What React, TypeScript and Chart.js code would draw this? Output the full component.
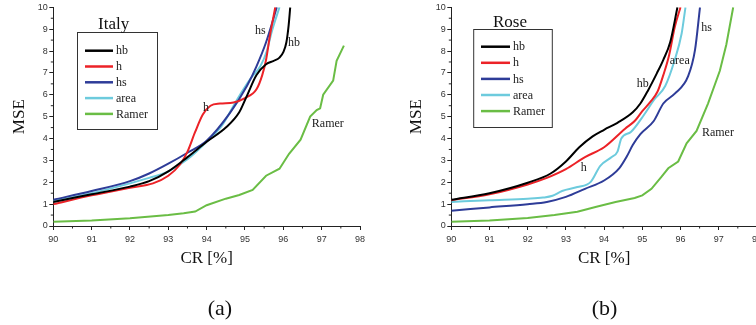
import React, { useEffect, useRef } from "react";
import { Chart, registerables } from "chart.js";
Chart.register(...registerables);

// ---------- shared ----------
const SERIES_NAMES = ["hb", "h", "hs", "area", "Ramer"];
const SERIES_COLORS = ["#000000", "#ec2227", "#2e3c98", "#6dcbdd", "#6abd45"];
const X_TICKS = [90, 91, 92, 93, 94, 95, 96, 97, 98];
const Y_TICKS = [0, 1, 2, 3, 4, 5, 6, 7, 8, 9, 10];

// ---------- (a) Italy ----------
const italyHbX = [90, 91, 92, 92.5, 93, 93.5, 94, 94.5, 94.85, 95.05, 95.3, 95.55, 95.75, 95.9, 96.0, 96.08, 96.14, 96.18];
const italyHbY = [1.1, 1.45, 1.8, 2.05, 2.5, 3.15, 3.85, 4.5, 5.2, 5.95, 6.9, 7.4, 7.55, 7.7, 7.95, 8.4, 9.2, 10];
const italyHX = [90, 91, 92, 92.6, 93, 93.3, 93.5, 93.7, 93.9, 94.1, 94.35, 94.7, 95.0, 95.3, 95.45, 95.55, 95.65, 95.79];
const italyHY = [1.0, 1.4, 1.75, 1.95, 2.3, 2.8, 3.4, 4.3, 5.1, 5.5, 5.6, 5.65, 5.85, 6.25, 6.9, 7.6, 8.7, 10];
const italyHsX = [90, 91, 92, 92.5, 93, 93.5, 94, 94.6, 95.05, 95.3, 95.55, 95.83];
const italyHsY = [1.2, 1.6, 2.05, 2.4, 2.85, 3.35, 3.9, 5.15, 6.4, 7.3, 8.4, 10];
const italyAreaX = [90, 91, 92, 92.5, 93, 93.5, 94, 94.4, 94.8, 95.15, 95.4, 95.57, 95.7, 95.9];
const italyAreaY = [1.15, 1.5, 1.95, 2.2, 2.5, 3.05, 3.85, 4.6, 5.8, 6.75, 7.3, 8.0, 8.9, 10];
const italyRamerX = [90, 91, 92, 93, 93.4, 93.7, 94.0, 94.5, 94.85, 95.2, 95.55, 95.9, 96.15, 96.45, 96.7, 96.87, 96.96, 97.04, 97.3, 97.39, 97.58];
const italyRamerY = [0.2, 0.25, 0.35, 0.5, 0.58, 0.66, 0.95, 1.25, 1.42, 1.65, 2.3, 2.62, 3.3, 3.95, 5.0, 5.3, 5.38, 6.0, 6.65, 7.55, 8.25];
const italyLabelText = ["hs", "hb", "h", "Ramer"];
const italyLabelX = [95.4, 96.28, 93.98, 97.16];
const italyLabelY = [8.92, 8.36, 5.39, 4.67];

// ---------- (b) Rose ----------
const roseHbX = [90, 91, 92, 92.6, 93, 93.35, 93.7, 94.0, 94.35, 94.75, 94.95, 95.15, 95.38, 95.55, 95.73, 95.92];
const roseHbY = [1.2, 1.5, 1.98, 2.4, 2.95, 3.6, 4.1, 4.4, 4.72, 5.2, 5.6, 6.2, 6.98, 7.6, 8.4, 10];
const roseHX = [90, 91, 92, 92.5, 93, 93.5, 94, 94.55, 94.8, 95.0, 95.2, 95.4, 95.55, 95.7, 95.85, 96.0];
const roseHY = [1.18, 1.45, 1.9, 2.2, 2.6, 3.15, 3.6, 4.45, 4.8, 5.25, 5.65, 6.15, 6.9, 7.8, 9.1, 10];
const roseHsX = [90, 91, 92, 92.5, 93, 93.5, 94, 94.4, 94.6, 94.75, 94.95, 95.3, 95.55, 95.85, 96.2, 96.38, 96.51];
const roseHsY = [0.7, 0.85, 1.0, 1.1, 1.33, 1.7, 2.08, 2.65, 3.2, 3.7, 4.2, 4.8, 5.6, 6.05, 6.85, 8.05, 10];
const roseAreaX = [90, 91, 92, 92.4, 92.65, 92.9, 93.3, 93.65, 93.9, 94.2, 94.35, 94.45, 94.7, 95.05, 95.3, 95.6, 95.85, 96.03, 96.13];
const roseAreaY = [1.1, 1.18, 1.25, 1.3, 1.38, 1.6, 1.78, 2.02, 2.75, 3.15, 3.4, 4.0, 4.3, 5.1, 5.75, 6.4, 7.6, 8.8, 10];
const roseRamerX = [90, 91, 92, 92.7, 93.3, 93.8, 94.3, 94.8, 95.0, 95.24, 95.5, 95.68, 95.94, 96.16, 96.42, 96.72, 97.03, 97.2, 97.38];
const roseRamerY = [0.2, 0.25, 0.37, 0.5, 0.65, 0.88, 1.1, 1.28, 1.4, 1.7, 2.25, 2.64, 2.95, 3.78, 4.35, 5.6, 7.1, 8.3, 10];
const roseLabelText = ["hs", "area", "hb", "h", "Ramer"];
const roseLabelX = [96.68, 95.98, 95.01, 93.47, 96.98];
const roseLabelY = [9.07, 7.55, 6.49, 2.67, 4.24];

const zip = (xs: number[], ys: number[]) => xs.map((x, i) => ({ x, y: ys[i] }));

type Panel = {
  title: string;
  caption: string;
  series: { x: number[]; y: number[] }[];
  labels: { t: string[]; x: number[]; y: number[] };
  canvasLeft: number;
  canvasWidth: number;
  axisWidth: number;
  padRight: number;
  yTitlePad: number;
  legend: { bx: number; by: number; bw: number; bh: number; lx0: number; lx1: number; tx: number; ry0: number; rdy: number; titleX: number; titleY: number };
  captionX: number;
};

const PANELS: Panel[] = [
  {
    title: "Italy",
    caption: "(a)",
    series: [
      { x: italyHbX, y: italyHbY },
      { x: italyHX, y: italyHY },
      { x: italyHsX, y: italyHsY },
      { x: italyAreaX, y: italyAreaY },
      { x: italyRamerX, y: italyRamerY },
    ],
    labels: { t: italyLabelText, x: italyLabelX, y: italyLabelY },
    canvasLeft: 0,
    canvasWidth: 378,
    axisWidth: 53.3,
    padRight: 18,
    yTitlePad: 9,
    legend: { bx: 77.5, by: 32.5, bw: 80, bh: 97, lx0: 85, lx1: 113, tx: 116, ry0: 50.7, rdy: 15.8, titleX: 98, titleY: 28.5 },
    captionX: 220,
  },
  {
    title: "Rose",
    caption: "(b)",
    series: [
      { x: roseHbX, y: roseHbY },
      { x: roseHX, y: roseHY },
      { x: roseHsX, y: roseHsY },
      { x: roseAreaX, y: roseAreaY },
      { x: roseRamerX, y: roseRamerY },
    ],
    labels: { t: roseLabelText, x: roseLabelX, y: roseLabelY },
    canvasLeft: 378,
    canvasWidth: 400,
    axisWidth: 73.3,
    padRight: 21.1,
    yTitlePad: 28.8,
    legend: { bx: 95.7, by: 29.5, bw: 78.6, bh: 98, lx0: 103, lx1: 132, tx: 135, ry0: 46.7, rdy: 16.1, titleX: 115, titleY: 26.7 },
    captionX: 604.5,
  },
];

const SERIF = "'Liberation Serif', 'DejaVu Serif', serif";
const SANS = "'Liberation Sans', Arial, sans-serif";

function makeDecor(p: Panel) {
  return {
    id: "decor" + p.title,
    afterDraw(chart: any) {
      const ctx = chart.ctx as CanvasRenderingContext2D;
      const xs = chart.scales.x;
      const ys = chart.scales.y;
      const area = chart.chartArea;
      ctx.save();
      // minor ticks
      ctx.strokeStyle = "#222";
      ctx.lineWidth = 1;
      ctx.beginPath();
      for (let i = 0; i < X_TICKS.length - 1; i++) {
        const px = xs.getPixelForValue(X_TICKS[i] + 0.5);
        ctx.moveTo(px, area.bottom);
        ctx.lineTo(px, area.bottom + 2.5);
      }
      for (let i = 0; i < Y_TICKS.length - 1; i++) {
        const py = ys.getPixelForValue(Y_TICKS[i] + 0.5);
        ctx.moveTo(area.left, py);
        ctx.lineTo(area.left - 2.5, py);
      }
      ctx.stroke();

      // curve labels
      ctx.fillStyle = "#222";
      ctx.font = "12px " + SERIF;
      ctx.textAlign = "center";
      ctx.textBaseline = "middle";
      p.labels.t.forEach((t, i) => {
        ctx.fillText(t, xs.getPixelForValue(p.labels.x[i]), ys.getPixelForValue(p.labels.y[i]));
      });

      // legend
      const L = p.legend;
      ctx.fillStyle = "#ffffff";
      ctx.fillRect(L.bx, L.by, L.bw, L.bh);
      ctx.strokeStyle = "#333";
      ctx.lineWidth = 1;
      ctx.strokeRect(L.bx, L.by, L.bw, L.bh);
      chart.data.datasets.forEach((ds: any, i: number) => {
        const ry = L.ry0 + i * L.rdy;
        ctx.strokeStyle = ds.borderColor;
        ctx.lineWidth = 2.5;
        ctx.beginPath();
        ctx.moveTo(L.lx0, ry);
        ctx.lineTo(L.lx1, ry);
        ctx.stroke();
        ctx.fillStyle = "#222";
        ctx.font = "12px " + SERIF;
        ctx.textAlign = "left";
        ctx.textBaseline = "middle";
        ctx.fillText(ds.label, L.tx, ry + 0.5);
      });
      ctx.fillStyle = "#111";
      ctx.font = "17px " + SERIF;
      ctx.textAlign = "left";
      ctx.textBaseline = "alphabetic";
      ctx.fillText(p.title, L.titleX, L.titleY);
      ctx.restore();
    },
  };
}

function ChartPanel({ p }: { p: Panel }) {
  const ref = useRef<HTMLCanvasElement | null>(null);
  useEffect(() => {
    if (!ref.current) return;
    const chart = new Chart(ref.current, {
      type: "line",
      data: {
        datasets: p.series.map((s, i) => ({
          label: SERIES_NAMES[i],
          data: zip(s.x, s.y),
          borderColor: SERIES_COLORS[i],
          backgroundColor: SERIES_COLORS[i],
          borderWidth: 2,
          pointRadius: 0,
          fill: false,
          cubicInterpolationMode: i === 4 ? "default" : "monotone",
          tension: i === 4 ? 0 : 0.4,
        })),
      },
      options: {
        animation: false,
        responsive: false,
        devicePixelRatio: 1,
        layout: { padding: { left: 0, top: 7.3, right: p.padRight, bottom: 0 } },
        plugins: { legend: { display: false }, tooltip: { enabled: false }, title: { display: false } },
        scales: {
          x: {
            type: "linear",
            min: 90,
            max: 98,
            afterFit: (s: any) => {
              s.height = 99;
            },
            afterBuildTicks: (s: any) => {
              s.ticks = X_TICKS.map((v) => ({ value: v }));
            },
            ticks: {
              font: { family: SANS, size: 9 },
              color: "#333",
              padding: 4.5,
              maxRotation: 0,
              autoSkip: false,
              callback: (v: any) => String(v),
            },
            grid: { display: true, drawOnChartArea: false, drawTicks: true, tickLength: 4, color: "#222" },
            border: { display: true, color: "#222", width: 1 },
            title: {
              display: true,
              text: "CR [%]",
              font: { family: SERIF, size: 17 },
              color: "#111",
              padding: { top: 0, bottom: 56.3 },
            },
          },
          y: {
            type: "linear",
            min: 0,
            max: 10,
            afterFit: (s: any) => {
              s.width = p.axisWidth;
            },
            afterBuildTicks: (s: any) => {
              s.ticks = Y_TICKS.map((v) => ({ value: v }));
            },
            ticks: {
              font: { family: SANS, size: 9 },
              color: "#333",
              padding: 1.5,
              autoSkip: false,
              callback: (v: any) => String(v),
            },
            grid: { display: true, drawOnChartArea: false, drawTicks: true, tickLength: 4, color: "#222" },
            border: { display: true, color: "#222", width: 1 },
            title: {
              display: true,
              text: "MSE",
              font: { family: SERIF, size: 17 },
              color: "#111",
              padding: { top: p.yTitlePad, bottom: 0 },
            },
          },
        },
      },
      plugins: [makeDecor(p)],
    } as any);
    return () => chart.destroy();
  }, []);
  return (
    <canvas
      ref={ref}
      width={p.canvasWidth}
      height={325}
      style={{ position: "absolute", left: p.canvasLeft, top: 0, width: p.canvasWidth, height: 325 }}
    />
  );
}

export default function App() {
  return (
    <div
      style={{
        position: "absolute",
        left: 0,
        top: 0,
        width: 756,
        height: 325,
        overflow: "hidden",
        background: "#ffffff",
      }}
    >
      {PANELS.map((p) => (
        <ChartPanel key={p.title} p={p} />
      ))}
      {PANELS.map((p) => (
        <div
          key={p.caption}
          style={{
            position: "absolute",
            left: p.captionX - 50,
            width: 100,
            top: 294,
            height: 28,
            lineHeight: "28px",
            textAlign: "center",
            fontFamily: SERIF,
            fontSize: 22,
            color: "#111",
          }}
        >
          {p.caption}
        </div>
      ))}
    </div>
  );
}
